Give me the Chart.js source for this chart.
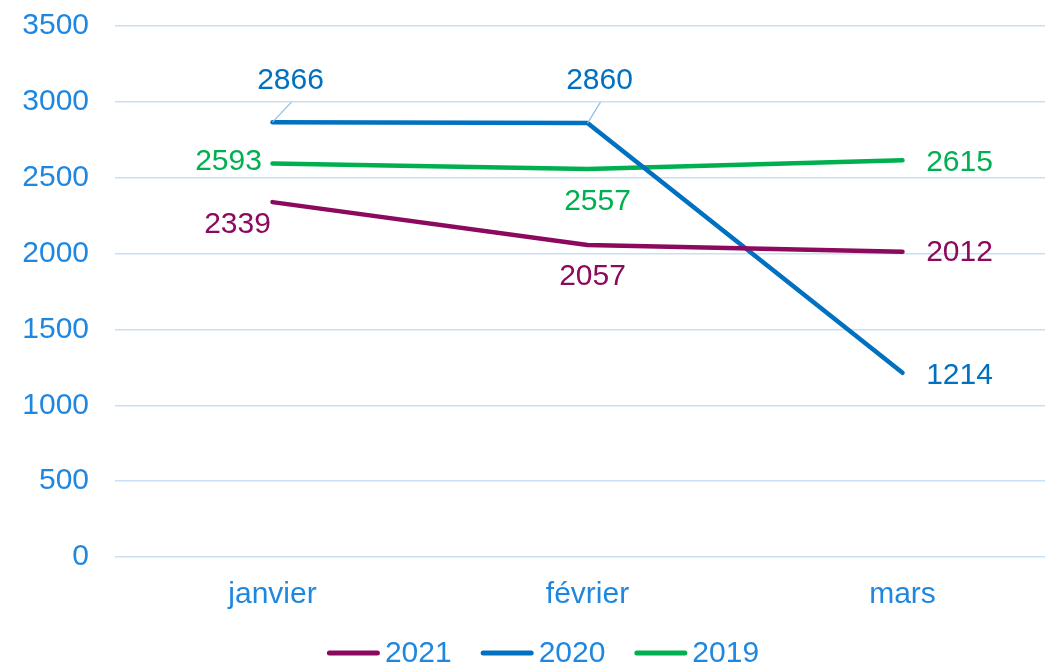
<!DOCTYPE html>
<html>
<head>
<meta charset="utf-8">
<script src="https://cdn.jsdelivr.net/npm/chart.js@4.4.1/dist/chart.umd.min.js"></script>
<style>
  html, body { margin: 0; padding: 0; background: #fff; overflow: hidden; }
  #wrap { width: 1060px; height: 665px; }
</style>
</head>
<body>
<div id="wrap"><canvas id="chart"></canvas></div>
<script>
const months = ["janvier", "février", "mars"];
const years = ["2021", "2020", "2019"];
const values2021 = [2339, 2057, 2012];
const values2020 = [2866, 2860, 1214];
const values2019 = [2593, 2557, 2615];
const yTicks = [0, 500, 1000, 1500, 2000, 2500, 3000, 3500];

const colors = ["#8B0A5E", "#0070C0", "#00B050"];
const FONT = "'Liberation Sans', Arial, sans-serif";
const FONT_SIZE = 30;
const BLUE_TEXT = "#1F87E0";

// label offsets (dx, dy from point, text centered) per series / per point
const labelOffsets = [
  [[-35, 23], [5, 32], [57, 1]],
  [[18, -41], [12, -42], [57, 3]],
  [[-44, -2], [10, 33], [57, 2]]
];
const leaderSeries = 1;

const dataLabels = {
  id: "dataLabels",
  afterDatasetsDraw(chart) {
    const ctx = chart.ctx;
    ctx.save();
    ctx.font = FONT_SIZE + "px " + FONT;
    ctx.textAlign = "center";
    ctx.textBaseline = "middle";
    chart.data.datasets.forEach((ds, i) => {
      const meta = chart.getDatasetMeta(i);
      meta.data.forEach((pt, j) => {
        const off = labelOffsets[i][j];
        const lx = pt.x + off[0];
        const ly = pt.y + off[1];
        if (i === leaderSeries && off[1] < 0) {
          ctx.strokeStyle = "#8DBEEA";
          ctx.lineWidth = 1.2;
          ctx.beginPath();
          ctx.moveTo(pt.x, pt.y);
          ctx.lineTo(lx + 1, ly + 21);
          ctx.stroke();
        }
        ctx.fillStyle = colors[i];
        ctx.fillText(String(ds.data[j]), lx, ly);
      });
    });
    ctx.restore();
  }
};

// legend drawn by hand so the swatch/text gaps match
const lineLegend = {
  id: "lineLegend",
  afterDraw(chart) {
    const ctx = chart.ctx;
    ctx.save();
    ctx.font = FONT_SIZE + "px " + FONT;
    ctx.textBaseline = "middle";
    ctx.textAlign = "left";
    const sw = 53, gap = 5, itemGap = 29, y = 653;
    const items = chart.data.datasets.map(ds => ({
      label: ds.label, color: ds.borderColor, w: sw + gap + ctx.measureText(ds.label).width
    }));
    const total = items.reduce((s, it) => s + it.w, 0) + itemGap * (items.length - 1);
    let x = (chart.width - total) / 2 + 13;
    items.forEach(it => {
      ctx.strokeStyle = it.color;
      ctx.lineWidth = 5;
      ctx.lineCap = "round";
      ctx.beginPath();
      ctx.moveTo(x + 2.5, y);
      ctx.lineTo(x + sw - 2.5, y);
      ctx.stroke();
      ctx.fillStyle = BLUE_TEXT;
      ctx.fillText(it.label, x + sw + gap, y + 1);
      x += it.w + itemGap;
    });
    ctx.restore();
  }
};

const seriesValues = [values2021, values2020, values2019];

new Chart(document.getElementById("chart"), {
  type: "line",
  data: {
    labels: months,
    datasets: years.map((y, i) => ({
      label: y,
      data: seriesValues[i],
      borderColor: colors[i],
      backgroundColor: colors[i],
      borderWidth: 4.5,
      pointRadius: 0,
      tension: 0,
      borderCapStyle: "round",
      borderJoinStyle: "round"
    }))
  },
  options: {
    responsive: true,
    maintainAspectRatio: false,
    animation: false,
    layout: { padding: { top: 26, left: 18, right: 0, bottom: 40 } },
    plugins: {
      tooltip: { enabled: false },
      legend: { display: false }
    },
    scales: {
      x: {
        offset: true,
        grid: { display: false },
        border: { display: false },
        afterFit(axis) { axis.paddingLeft = 0; axis.paddingRight = 0; },
        ticks: {
          font: { family: FONT, size: FONT_SIZE },
          color: BLUE_TEXT,
          padding: 12
        }
      },
      y: {
        min: 0,
        max: 3500,
        afterBuildTicks(axis) { axis.ticks = yTicks.map(v => ({ value: v })); },
        afterFit(axis) { axis.width = 97; axis.paddingTop = 0; axis.paddingBottom = 0; },
        grid: { color: "#C9DFF3", lineWidth: 1.5, drawTicks: false },
        border: { display: false },
        ticks: {
          font: { family: FONT, size: FONT_SIZE },
          color: BLUE_TEXT,
          padding: 26,
          callback: v => String(v)
        }
      }
    }
  },
  plugins: [dataLabels, lineLegend]
});
</script>
</body>
</html>
